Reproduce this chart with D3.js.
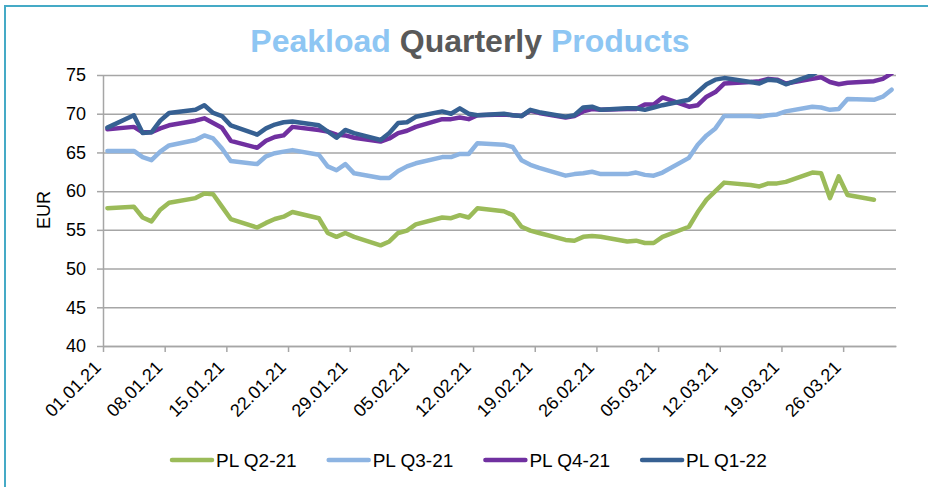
<!DOCTYPE html>
<html>
<head>
<meta charset="utf-8">
<title>Peakload Quarterly Products</title>
<script src="https://cdn.jsdelivr.net/npm/d3@7"></script>
<style>
body { margin: 0; background: #fff; }
svg text { font-family: "Liberation Sans", Arial, sans-serif; }
</style>
</head>
<body>
<div id="chart"></div>
<script>
// trading days (dd.mm.yy)
var dates = [
    "01.01.21",
    "04.01.21","05.01.21","06.01.21","07.01.21","08.01.21",
    "11.01.21","12.01.21","13.01.21","14.01.21","15.01.21",
    "18.01.21","19.01.21","20.01.21","21.01.21","22.01.21",
    "25.01.21","26.01.21","27.01.21","28.01.21","29.01.21",
    "01.02.21","02.02.21","03.02.21","04.02.21","05.02.21",
    "08.02.21","09.02.21","10.02.21","11.02.21","12.02.21",
    "15.02.21","16.02.21","17.02.21","18.02.21","19.02.21",
    "22.02.21","23.02.21","24.02.21","25.02.21","26.02.21",
    "01.03.21","02.03.21","03.03.21","04.03.21","05.03.21",
    "08.03.21","09.03.21","10.03.21","11.03.21","12.03.21",
    "15.03.21","16.03.21","17.03.21","18.03.21","19.03.21",
    "22.03.21","23.03.21","24.03.21","25.03.21","26.03.21",
    "29.03.21","30.03.21","31.03.21"
];

// EUR/MWh, one value per trading day (null = no longer traded)
var plQ2_21 = [
    57.8,
    58.0, 56.6, 56.1, 57.6, 58.5,
    59.1, 59.7, 59.6, 58.0, 56.4,
    55.3, 55.9, 56.4, 56.7, 57.3,
    56.5, 54.6, 54.1, 54.6, 54.1,
    53.0, 53.5, 54.6, 54.9, 55.7,
    56.6, 56.5, 56.9, 56.6, 57.8,
    57.4, 56.9, 55.4, 54.9, 54.6,
    53.7, 53.6, 54.1, 54.2, 54.1,
    53.5, 53.6, 53.3, 53.3, 54.1,
    55.4, 57.3, 58.9, 60.0, 61.1,
    60.8, 60.6, 61.0, 61.0, 61.2,
    62.4, 62.3, 59.1, 61.9, 59.5,
    58.9, null, null
];
var plQ3_21 = [
    65.2,
    65.2, 64.4, 64.0, 65.1, 65.9,
    66.6, 67.2, 66.8, 65.5, 63.9,
    63.5, 64.5, 64.9, 65.1, 65.3,
    64.7, 63.2, 62.7, 63.5, 62.3,
    61.7, 61.7, 62.6, 63.2, 63.6,
    64.4, 64.4, 64.8, 64.8, 66.2,
    66.0, 65.7, 64.0, 63.4, 63.0,
    62.0, 62.2, 62.3, 62.5, 62.2,
    62.2, 62.4, 62.1, 62.0, 62.4,
    64.3, 66.0, 67.2, 68.1, 69.7,
    69.7, 69.6, 69.8, 69.9, 70.3,
    70.9, 70.8, 70.5, 70.6, 71.9,
    71.8, 72.2, 73.1
];
var plQ4_21 = [
    68.0,
    68.3, 67.6, 67.6, 68.1, 68.5,
    69.1, 69.4, 68.8, 68.2, 66.5,
    65.6, 66.5, 67.0, 67.2, 68.3,
    67.9, 67.7, 67.3, 67.2, 66.9,
    66.4, 66.8, 67.5, 67.8, 68.3,
    69.3, 69.3, 69.5, 69.3, 69.8,
    69.9, 69.8, 69.7, 70.4, 70.1,
    69.5, 69.7, 70.3, 70.6, 70.5,
    70.6, 70.6, 71.2, 71.2, 72.1,
    70.9, 71.1, 72.2, 72.8, 73.9,
    74.1, 74.2, 74.5, 74.4, 73.9,
    74.5, 74.7, 74.1, 73.8, 74.0,
    74.2, 74.5, 75.2
];
var plQ1_22 = [
    68.2,
    69.8, 67.5, 67.6, 69.1, 70.1,
    70.5, 71.1, 70.1, 69.7, 68.5,
    67.3, 68.1, 68.6, 68.9, 69.0,
    68.5, 67.7, 66.9, 67.9, 67.5,
    66.6, 67.5, 68.8, 68.9, 69.6,
    70.3, 70.0, 70.7, 70.0, 69.8,
    70.0, 69.8, 69.7, 70.5, 70.2,
    69.6, 69.8, 70.8, 70.9, 70.5,
    70.7, 70.7, 70.5, 70.8, 71.1,
    71.8, 72.8, 73.8, 74.4, 74.6,
    74.1, 73.9, 74.4, 74.3, 73.8,
    75.0, 75.8, 76.0, 75.8, 76.0,
    76.2, 76.4, 76.8
];

var seriesNames = ["PL Q2-21", "PL Q3-21", "PL Q4-21", "PL Q1-22"];
var seriesValues = [plQ2_21, plQ3_21, plQ4_21, plQ1_22];
var colors = ["#9bbb59", "#8db4e2", "#7030a0", "#366092"];

var xTickLabels = ["01.01.21","08.01.21","15.01.21","22.01.21","29.01.21","05.02.21",
    "12.02.21","19.02.21","26.02.21","05.03.21","12.03.21","19.03.21","26.03.21"];
var yTicks = [40, 45, 50, 55, 60, 65, 70, 75];

var w = 928, h = 487;
// plot box ("top" is taken by window.top, so prefix these)
var plotL = 103, plotR = 896, plotT = 75, plotB = 346;

var parse = d3.utcParse("%d.%m.%y");
var fmt = d3.utcFormat("%d.%m.%y");

var svg = d3.select("#chart").append("svg")
    .attr("width", w)
    .attr("height", h);

// frame (only top and left are visible in the picture)
svg.append("path")
    .attr("d", "M5,487 L5,6 L928,6")
    .attr("fill", "none")
    .attr("stroke", "#45aac6")
    .attr("stroke-width", 2);

// title
var title = svg.append("text")
    .attr("x", 470)
    .attr("y", 52)
    .attr("text-anchor", "middle")
    .style("font-size", "32px")
    .style("font-weight", "bold");
title.append("tspan").attr("fill", "#8ec6f3").text("Peakload ");
title.append("tspan").attr("fill", "#595959").text("Quarterly ");
title.append("tspan").attr("fill", "#8ec6f3").text("Products");

var x = d3.scaleUtc()
    .domain([parse("01.01.21"), d3.utcDay.offset(parse("31.03.21"), 1)])
    .range([plotL, plotR]);
var y = d3.scaleLinear()
    .domain([40, 75])
    .range([plotB, plotT]);

// points sit in the middle of their day
function xPos(s) { return x(d3.utcHour.offset(parse(s), 12)); }

// gridlines
svg.append("g")
    .attr("transform", "translate(" + plotL + ",0)")
    .call(d3.axisLeft(y).tickValues(yTicks).tickSize(-(plotR - plotL)).tickFormat(""))
    .call(function(g) {
        g.select(".domain").remove();
        g.selectAll("line").attr("stroke", "#a6a6a6").attr("stroke-width", 1.5);
    });

// y axis
svg.append("g")
    .attr("transform", "translate(" + plotL + ",0)")
    .call(d3.axisLeft(y).tickValues(yTicks).tickSize(6).tickSizeOuter(0).tickPadding(11))
    .call(function(g) {
        g.select(".domain").attr("stroke", "#a6a6a6").attr("stroke-width", 1.5);
        g.selectAll("line").attr("stroke", "#a6a6a6").attr("stroke-width", 1.5);
        g.selectAll("text").attr("fill", "#000").style("font-size", "18px");
    });

// x axis
svg.append("g")
    .attr("transform", "translate(0," + plotB + ")")
    .call(d3.axisBottom(x).tickValues(xTickLabels.map(parse)).tickFormat(fmt).tickSize(6).tickSizeOuter(0))
    .call(function(g) {
        g.select(".domain").attr("stroke", "#a6a6a6").attr("stroke-width", 1.5);
        g.selectAll("line").attr("stroke", "#a6a6a6").attr("stroke-width", 1.5);
        g.selectAll("text")
            .attr("fill", "#000")
            .style("font-size", "18px")
            .attr("text-anchor", "end")
            .attr("x", 0).attr("y", 0).attr("dy", "0.35em")
            .attr("transform", "translate(-6,18) rotate(-45)");
    });

// y axis title
svg.append("text")
    .attr("transform", "translate(50,210) rotate(-90)")
    .attr("text-anchor", "middle")
    .style("font-size", "18px")
    .attr("fill", "#000")
    .text("EUR");

svg.append("clipPath").attr("id", "plot")
    .append("rect")
    .attr("x", plotL).attr("y", plotT - 1)
    .attr("width", plotR - plotL).attr("height", plotB - plotT + 1);

var line = d3.line()
    .defined(function(d) { return d.v != null; })
    .x(function(d) { return xPos(d.date); })
    .y(function(d) { return y(d.v); });

svg.append("g")
    .attr("clip-path", "url(#plot)")
    .selectAll("path")
    .data(seriesValues)
    .enter()
    .append("path")
    .attr("fill", "none")
    .attr("stroke", function(d, i) { return colors[i]; })
    .attr("stroke-width", 4.5)
    .attr("stroke-linejoin", "round")
    .attr("stroke-linecap", "round")
    .attr("d", function(vals) {
        return line(vals.map(function(v, i) { return {date: dates[i], v: v}; }));
    });

// legend
var legend = svg.append("g")
    .selectAll("g")
    .data(seriesNames)
    .enter()
    .append("g")
    .attr("transform", function(d, i) { return "translate(" + (172 + i * 156.7) + ",460)"; });
legend.append("line")
    .attr("x1", 0).attr("x2", 40)
    .attr("stroke", function(d, i) { return colors[i]; })
    .attr("stroke-width", 4.5)
    .attr("stroke-linecap", "round");
legend.append("text")
    .attr("x", 44)
    .attr("dy", "0.35em")
    .style("font-size", "19px")
    .attr("fill", "#000")
    .text(function(d) { return d; });
</script>
</body>
</html>
